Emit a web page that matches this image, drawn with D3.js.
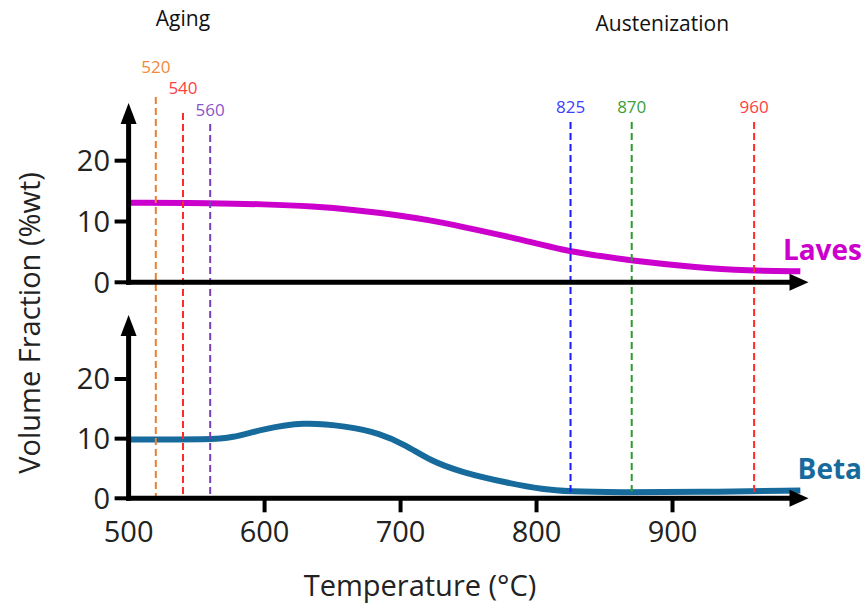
<!DOCTYPE html>
<html>
<head>
<meta charset="utf-8">
<script src="https://cdn.jsdelivr.net/npm/d3@7/dist/d3.min.js"></script>
<style>
  html, body { margin: 0; padding: 0; background: #fff; }
  svg { display: block; font-family: "Open Sans", "DejaVu Sans", sans-serif; }
</style>
</head>
<body>
<svg id="chart" width="865" height="613"></svg>
<script>
// ---------- DATA ----------
const lavesTemp = [501, 562, 599, 636, 667, 697, 722, 744, 780, 823, 842, 872, 915, 956, 994];
const lavesVal  = [13.1, 13.0, 12.85, 12.5, 11.9, 11.1, 10.2, 9.2, 7.5, 5.1, 4.5, 3.5, 2.5, 1.9, 1.8];
const betaTemp  = [501, 562, 575, 599, 628, 660, 685, 704, 722, 744, 780, 805, 823, 860, 920, 994];
const betaVal   = [9.85, 9.85, 10.1, 11.6, 12.8, 12.1, 10.9, 8.9, 6.3, 4.4, 2.5, 1.5, 1.15, 1.0, 1.05, 1.3];
const xTicks = [500, 600, 700, 800, 900];
const yTicks = [0, 10, 20];
const markerTemps  = [520, 540, 560, 825, 870, 960];
const markerLabels = ["520", "540", "560", "825", "870", "960"];
const groupTitles  = ["Aging", "Austenization"];
const groupMembers = [[520, 540, 560], [825, 870, 960]];
const seriesNames  = ["Laves", "Beta"];
const xTitle = "Temperature (°C)";
const yTitle = "Volume Fraction (%wt)";

// ---------- STYLES ----------
const markerColors     = ["#ED7D31", "#FF2A2A", "#7A3FB8", "#1A1AFF", "#2E9A2E", "#FF2A2A"];
const markerTextColors = ["#F0883C", "#FF4040", "#8A55C8", "#4040FF", "#3A9E3A", "#FF4040"];
const markerLabelY = [67, 88, 110, 107, 107, 107];
const markerLineTop = [97, 113, 124, 122, 122, 122];
const seriesColors = ["#CC00CC", "#176B9C"];

const svg = d3.select("#chart");

const x = d3.scaleLinear().domain([500, 1000]).range([128.6, 808.5]);
const panels = [
  { y: d3.scaleLinear().domain([0, 20]).range([282.3, 160.7]), tip: 103, temp: lavesTemp, val: lavesVal },
  { y: d3.scaleLinear().domain([0, 20]).range([498.3, 379]),   tip: 315, temp: betaTemp,  val: betaVal }
];

// curves
panels.forEach((p, i) => {
  const pts = p.temp.map((t, k) => [t, p.val[k]]);
  const line = d3.line().x(d => x(d[0])).y(d => p.y(d[1])).curve(d3.curveBasis);
  svg.append("path").datum(pts)
    .attr("d", line).attr("fill", "none")
    .attr("stroke", seriesColors[i]).attr("stroke-width", 6)
    .attr("stroke-linecap", "butt");
});

// dashed markers
const bottomY = panels[1].y(0);
markerTemps.forEach((t, i) => {
  svg.append("line")
    .attr("x1", x(t)).attr("x2", x(t))
    .attr("y1", markerLineTop[i]).attr("y2", bottomY - 2)
    .attr("stroke", markerColors[i]).attr("stroke-width", 2)
    .attr("stroke-dasharray", "7,4");
  svg.append("text")
    .attr("x", x(t)).attr("y", markerLabelY[i])
    .attr("dy", "0.36em")
    .attr("text-anchor", "middle")
    .attr("font-size", 17)
    .attr("fill", markerTextColors[i])
    .text(markerLabels[i]);
});

// group titles
groupTitles.forEach((g, i) => {
  const ext = d3.extent(groupMembers[i]);
  svg.append("text")
    .attr("x", x((ext[0] + ext[1]) / 2))
    .attr("y", i === 0 ? 26 : 31)
    .attr("text-anchor", "middle")
    .attr("font-size", 21)
    .attr("fill", "#111")
    .text(g);
});

// axes
const x0 = x(500);
const xEnd = x(1000);
panels.forEach((p, i) => {
  const y0 = p.y(0);
  svg.append("line").attr("x1", x0).attr("x2", x0)
    .attr("y1", y0 + 2.5).attr("y2", p.tip + 18)
    .attr("stroke", "#000").attr("stroke-width", 5);
  svg.append("path")
    .attr("d", `M${x0},${p.tip} L${x0 + 8},${p.tip + 21} L${x0 - 8},${p.tip + 21} Z`)
    .attr("fill", "#000");
  svg.append("line").attr("x1", x0 - 2.5).attr("x2", xEnd - 16)
    .attr("y1", y0).attr("y2", y0)
    .attr("stroke", "#000").attr("stroke-width", 5);
  svg.append("path")
    .attr("d", `M${xEnd},${y0} L${xEnd - 19},${y0 - 8.5} L${xEnd - 19},${y0 + 8.5} Z`)
    .attr("fill", "#000");
  yTicks.forEach(v => {
    svg.append("line").attr("x1", x0 - 14).attr("x2", x0)
      .attr("y1", p.y(v)).attr("y2", p.y(v))
      .attr("stroke", "#000").attr("stroke-width", 4);
    svg.append("text")
      .attr("x", 110).attr("y", p.y(v)).attr("dy", "0.36em")
      .attr("text-anchor", "end").attr("font-size", 29).attr("fill", "#222")
      .text(v);
  });
  svg.append("text")
    .attr("x", 862).attr("y", i === 0 ? 260 : 479)
    .attr("text-anchor", "end").attr("font-size", 28).attr("font-weight", "bold")
    .attr("fill", seriesColors[i])
    .text(seriesNames[i]);
});

xTicks.forEach(t => {
  if (t !== 500) {
    svg.append("line").attr("x1", x(t)).attr("x2", x(t))
      .attr("y1", bottomY).attr("y2", bottomY + 14)
      .attr("stroke", "#000").attr("stroke-width", 4);
  }
  svg.append("text")
    .attr("x", x(t)).attr("y", 532).attr("dy", "0.36em")
    .attr("text-anchor", "middle").attr("font-size", 29).attr("fill", "#222")
    .text(t);
});

svg.append("text")
  .attr("x", 420).attr("y", 586).attr("dy", "0.36em")
  .attr("text-anchor", "middle").attr("font-size", 29).attr("fill", "#222")
  .text(xTitle);
svg.append("text")
  .attr("transform", "translate(30,323) rotate(-90)")
  .attr("dy", "0.36em")
  .attr("text-anchor", "middle").attr("font-size", 29).attr("fill", "#222")
  .text(yTitle);
</script>
</body>
</html>
